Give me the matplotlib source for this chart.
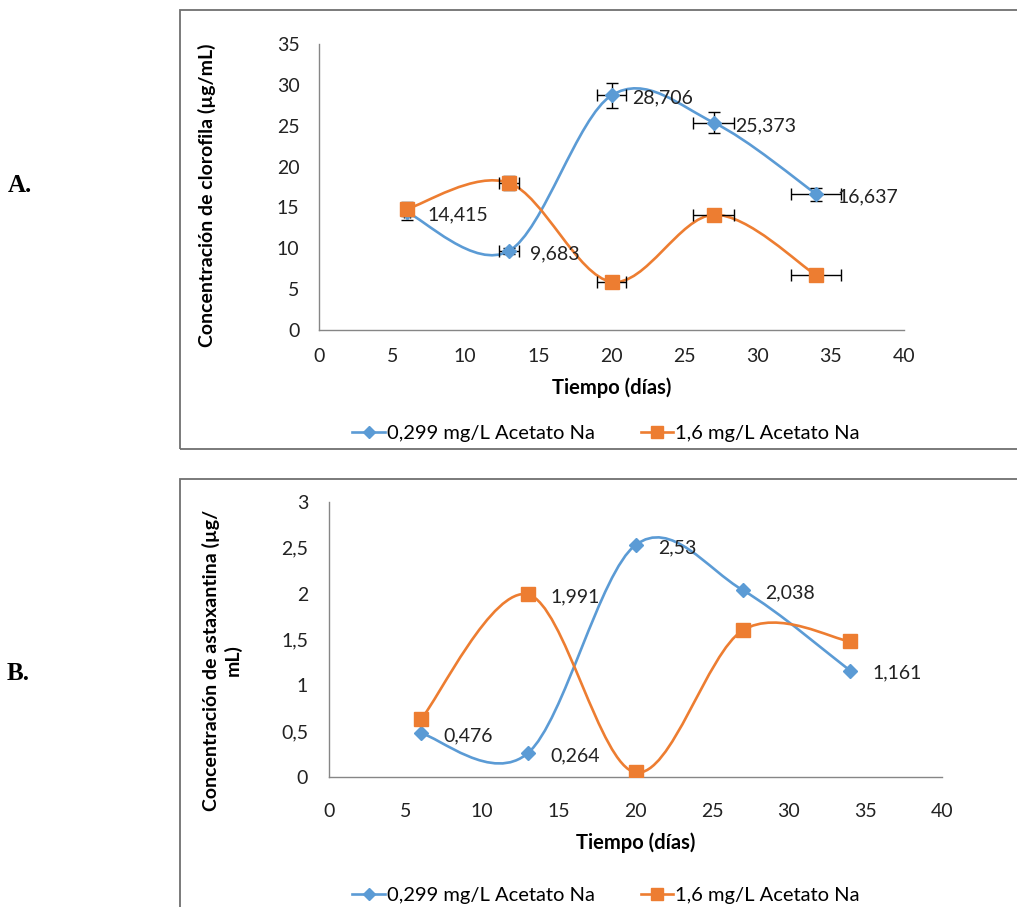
import matplotlib
matplotlib.use("Agg")
import matplotlib.pyplot as plt
from matplotlib.path import Path
from matplotlib.patches import PathPatch, Rectangle
from matplotlib.lines import Line2D
from matplotlib.ticker import FuncFormatter

plt.rcParams['font.family'] = ['Lato', 'DejaVu Sans']

# datos
dias = [6, 13, 20, 27, 34]
etiquetas_serie = ["0,299 mg/L Acetato Na", "1,6 mg/L Acetato Na"]

# A. clorofila
clorofila_0299 = [14.415, 9.683, 28.706, 25.373, 16.637]
clorofila_16 = [14.8, 18.0, 5.9, 14.1, 6.7]
err_y_0299 = [0.9, 0.4, 1.5, 1.3, 0.8]
err_x_0299 = [0.2, 0.7, 1.0, 1.4, 1.7]
err_y_16 = [0.9, 0.9, 0.4, 0.5, 0.0]
err_x_16 = [0.2, 0.7, 1.0, 1.4, 1.7]

# B. astaxantina
astax_0299 = [0.476, 0.264, 2.53, 2.038, 1.161]
astax_16 = [0.63, 1.991, 0.05, 1.6, 1.48]

AZUL = "#5B9BD5"
NARANJA = "#ED7D31"
GRIS = "#868686"
TXT = "#222222"
W, H = 1017, 907
FS = 14


def coma(v, pos=None):
    return f"{v:g}".replace('.', ',')


def curva_suave(ax, xs, ys, color):
    # lineas suavizadas tipo Excel (bezier cubica)
    pts = list(zip(xs, ys))
    n = len(pts)
    verts = [pts[0]]
    codes = [Path.MOVETO]
    for i in range(n - 1):
        p0 = pts[i - 1] if i > 0 else pts[i]
        p1 = pts[i]
        p2 = pts[i + 1]
        p3 = pts[i + 2] if i + 2 < n else pts[i + 1]
        c1 = (p1[0] + (p2[0] - p0[0]) / 6, p1[1] + (p2[1] - p0[1]) / 6)
        c2 = (p2[0] - (p3[0] - p1[0]) / 6, p2[1] - (p3[1] - p1[1]) / 6)
        verts += [c1, c2, p2]
        codes += [Path.CURVE4] * 3
    ax.add_patch(PathPatch(Path(verts, codes), facecolor='none', edgecolor=color,
                           lw=1.9, transform=ax.transData, zorder=2))


def ejes(left, top, right, bottom, ymax, ystep, xpad, ypad):
    ax = fig.add_axes([left / W, 1 - bottom / H, (right - left) / W, (bottom - top) / H])
    ax.set_xlim(0, 40)
    ax.set_ylim(0, ymax)
    ax.set_xticks(range(0, 41, 5))
    yt = [i * ystep for i in range(int(round(ymax / ystep)) + 1)]
    ax.set_yticks(yt)
    ax.yaxis.set_major_formatter(FuncFormatter(coma))
    ax.tick_params(length=0, labelsize=FS, colors=TXT)
    ax.tick_params(axis='x', pad=xpad)
    ax.tick_params(axis='y', pad=ypad)
    for s in ['top', 'right']:
        ax.spines[s].set_visible(False)
    for s in ['left', 'bottom']:
        ax.spines[s].set_color(GRIS)
        ax.spines[s].set_linewidth(1.0)
    ax.patch.set_alpha(0)
    return ax


fig = plt.figure(figsize=(W / 100, H / 100), dpi=100)

# recuadros
fig.patches.append(Rectangle((180 / W, 1 - 449 / H), 900 / W, 439 / H, transform=fig.transFigure,
                             fill=False, edgecolor='#707070', lw=1.3))
fig.patches.append(Rectangle((180 / W, -0.1), 900 / W, 1 - 479 / H + 0.1, transform=fig.transFigure,
                             fill=False, edgecolor='#707070', lw=1.3))

fig.text(8 / W, 1 - 185 / H, "A.", family='Liberation Serif', weight='bold', fontsize=18, va='center')
fig.text(7 / W, 1 - 673 / H, "B.", family='Liberation Serif', weight='bold', fontsize=18, va='center')

# ---- A ----
axA = ejes(319, 44, 904, 330, 35, 5, 13, 14)
curva_suave(axA, dias, clorofila_0299, AZUL)
curva_suave(axA, dias, clorofila_16, NARANJA)
axA.errorbar(dias, clorofila_0299, yerr=err_y_0299, xerr=err_x_0299, fmt='D', color=AZUL,
             ms=7, ecolor='black', elinewidth=1, capsize=4, capthick=1, zorder=3)
axA.errorbar(dias, clorofila_16, yerr=err_y_16, xerr=err_x_16, fmt='s', color=NARANJA,
             ms=9.5, ecolor='black', elinewidth=1, capsize=4, capthick=1, zorder=3)
for x, y in zip(dias, clorofila_0299):
    axA.annotate(coma(y), (x, y), xytext=(15, -2), textcoords='offset points',
                 fontsize=FS, va='center', ha='left', color=TXT)
axA.set_xlabel("Tiempo (días)", fontsize=14.5, weight='bold', labelpad=9)
fig.text(207 / W, 1 - 195 / H, "Concentración de clorofila (µg/mL)", rotation=90,
         fontsize=14, weight='bold', ha='center', va='center')

# ---- B ----
axB = ejes(329, 502, 942, 777, 3, 0.5, 19, 15)
curva_suave(axB, dias, astax_0299, AZUL)
curva_suave(axB, dias, astax_16, NARANJA)
axB.plot(dias, astax_0299, 'D', color=AZUL, ms=7, zorder=3)
axB.plot(dias, astax_16, 's', color=NARANJA, ms=9.5, zorder=3)
for x, y in zip(dias, astax_0299):
    axB.annotate(coma(y), (x, y), xytext=(16, -2), textcoords='offset points',
                 fontsize=FS, va='center', ha='left', color=TXT)
axB.annotate(coma(astax_16[1]), (dias[1], astax_16[1]), xytext=(16, -2), textcoords='offset points',
             fontsize=FS, va='center', ha='left', color=TXT)
axB.set_xlabel("Tiempo (días)", fontsize=14.5, weight='bold', labelpad=9)
fig.text(222 / W, 1 - 660 / H, "Concentración de astaxantina (µg/\nmL)", rotation=90,
         fontsize=14, weight='bold', ha='center', va='center', multialignment='center',
         linespacing=1.25)

# leyendas
handles = [Line2D([], [], color=AZUL, lw=1.9, marker='D', ms=6),
           Line2D([], [], color=NARANJA, lw=1.9, marker='s', ms=8)]
for yc, xc in [(433, 606), (895, 606)]:
    fig.legend(handles, etiquetas_serie, loc='center', bbox_to_anchor=(xc / W, 1 - yc / H),
               ncol=2, frameon=False, fontsize=14.5, handlelength=1.6, handletextpad=0.1,
               columnspacing=2.3)

fig.savefig("out.png", dpi=100)
